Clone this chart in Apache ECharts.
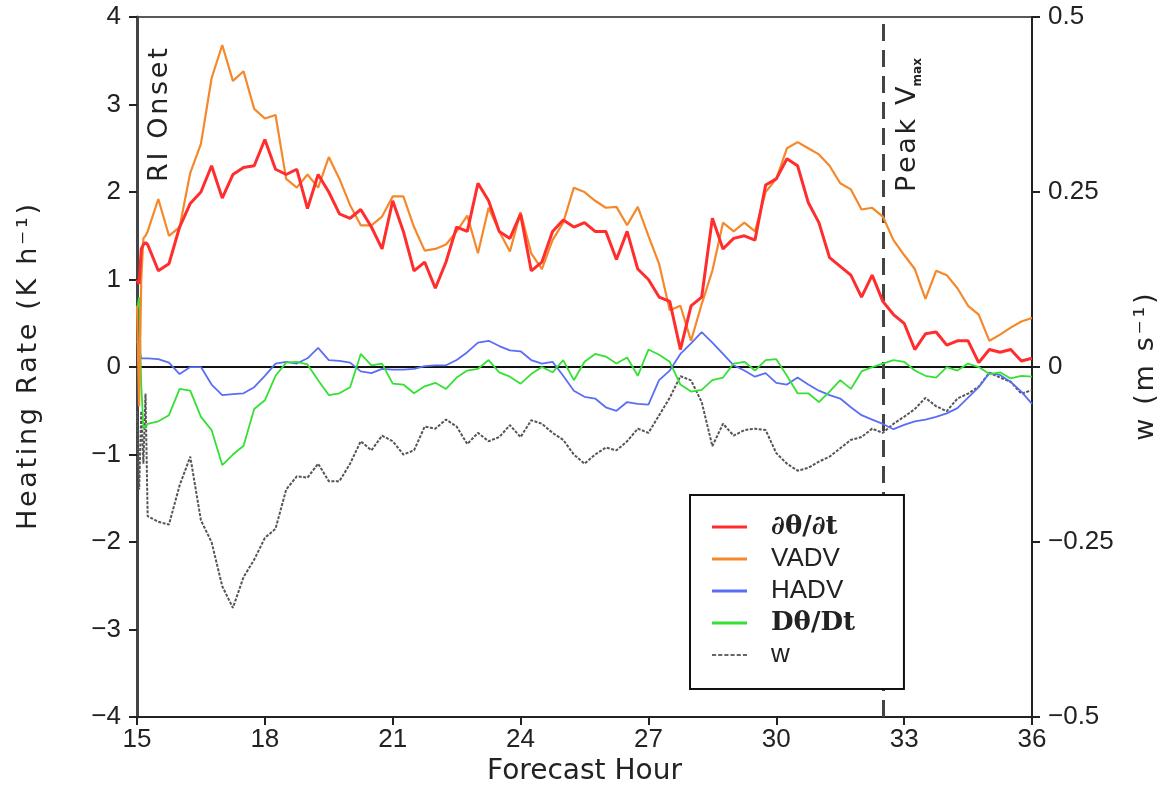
<!DOCTYPE html>
<html>
<head>
<meta charset="utf-8">
<script src="https://cdn.jsdelivr.net/npm/echarts@6/dist/echarts.min.js"></script>
<style>
  html, body { margin: 0; padding: 0; background: #fff; }
  #chart { width: 1173px; height: 791px; }
</style>
</head>
<body>
<div id="chart"></div>
<script>
var hours = [15, 15.05, 15.1, 15.15, 15.2, 15.25, 15.5, 15.75, 16, 16.25, 16.5, 16.75, 17, 17.25, 17.5, 17.75,
  18, 18.25, 18.5, 18.75, 19, 19.25, 19.5, 19.75, 20, 20.25, 20.5, 20.75, 21, 21.25, 21.5, 21.75,
  22, 22.25, 22.5, 22.75, 23, 23.25, 23.5, 23.75, 24, 24.25, 24.5, 24.75, 25, 25.25, 25.5, 25.75,
  26, 26.25, 26.5, 26.75, 27, 27.25, 27.5, 27.75, 28, 28.25, 28.5, 28.75, 29, 29.25, 29.5, 29.75,
  30, 30.25, 30.5, 30.75, 31, 31.25, 31.5, 31.75, 32, 32.25, 32.5, 32.75, 33, 33.25, 33.5, 33.75,
  34, 34.25, 34.5, 34.75, 35, 35.25, 35.5, 35.75, 36];

// heating rates, K h-1
var dthdt = [1.0, 0.95, 1.35, 1.4, 1.42, 1.4,
  1.1, 1.18, 1.6, 1.87, 2.0, 2.3, 1.93, 2.2, 2.28, 2.3,
  2.6, 2.26, 2.2, 2.26, 1.81, 2.2, 2.0, 1.75,
  1.7, 1.8, 1.6, 1.35, 1.9, 1.55, 1.1, 1.2,
  0.9, 1.2, 1.6, 1.55, 2.1, 1.9, 1.55, 1.47,
  1.75, 1.1, 1.2, 1.55, 1.68, 1.6, 1.65, 1.55,
  1.55, 1.23, 1.55, 1.12, 1.0, 0.8, 0.75, 0.2,
  0.7, 0.8, 1.7, 1.35, 1.47, 1.5, 1.45, 2.08,
  2.15, 2.38, 2.3, 1.88, 1.65, 1.25, 1.15, 1.05,
  0.8, 1.05, 0.75, 0.6, 0.5, 0.2, 0.38, 0.4,
  0.25, 0.3, 0.3, 0.05, 0.2, 0.17, 0.2, 0.07, 0.1];

var vadv = [0.7, -0.45, 1.0, 1.47, 1.5, 1.55,
  1.92, 1.5, 1.6, 2.22, 2.55, 3.3, 3.68, 3.27, 3.38, 2.95,
  2.84, 2.88, 2.15, 2.05, 2.2, 2.05, 2.4, 2.15,
  1.85, 1.62, 1.62, 1.72, 1.95, 1.95, 1.6, 1.33,
  1.35, 1.4, 1.55, 1.73, 1.3, 1.82, 1.55, 1.32,
  1.77, 1.3, 1.12, 1.45, 1.65, 2.05, 2.0, 1.9,
  1.82, 1.83, 1.62, 1.83, 1.5, 1.18, 0.65, 0.7,
  0.3, 0.72, 1.1, 1.65, 1.55, 1.65, 1.55, 2.0,
  2.15, 2.5, 2.57, 2.5, 2.43, 2.3, 2.1, 2.03,
  1.8, 1.82, 1.72, 1.45, 1.28, 1.12, 0.78, 1.1,
  1.05, 0.9, 0.7, 0.6, 0.3, 0.37, 0.45, 0.52, 0.56];

var hadv = [0.3, 0.2, 0.1, 0.1, 0.1, 0.1,
  0.09, 0.05, -0.08, 0.0, 0.0, -0.2, -0.32, -0.31, -0.3, -0.23,
  -0.1, 0.04, 0.06, 0.04, 0.1, 0.22, 0.08, 0.07,
  0.05, -0.05, -0.07, -0.02, -0.03, -0.03, -0.02, 0.01,
  0.02, 0.02, 0.08, 0.17, 0.28, 0.3, 0.24, 0.19,
  0.18, 0.08, 0.04, 0.06, -0.1, -0.27, -0.34, -0.36,
  -0.46, -0.5, -0.4, -0.42, -0.43, -0.15, -0.04, 0.15,
  0.27, 0.4, 0.28, 0.15, 0.02, -0.04, -0.11, -0.07,
  -0.18, -0.2, -0.12, -0.2, -0.27, -0.32, -0.36, -0.46,
  -0.55, -0.6, -0.65, -0.71, -0.66, -0.62, -0.6, -0.57,
  -0.53, -0.47, -0.35, -0.23, -0.07, -0.09, -0.17, -0.28, -0.42];

var dthDt = [0.65, 0.8, -0.2, -0.7, -0.68, -0.65,
  -0.62, -0.55, -0.25, -0.27, -0.57, -0.72, -1.12, -1.0, -0.9, -0.48,
  -0.38, -0.1, 0.05, 0.06, 0.03, -0.15, -0.32, -0.3,
  -0.23, 0.15, 0.02, 0.04, -0.19, -0.2, -0.3, -0.22,
  -0.18, -0.25, -0.12, -0.04, -0.02, 0.08, -0.06, -0.11,
  -0.19, -0.08, 0.0, -0.06, 0.08, -0.15, 0.06, 0.15,
  0.12, 0.04, 0.11, -0.1, 0.2, 0.14, 0.06, -0.2,
  -0.28, -0.26, -0.15, -0.12, 0.04, 0.06, -0.04, 0.08,
  0.09, -0.1, -0.3, -0.3, -0.4, -0.28, -0.15, -0.25,
  -0.05, 0.0, 0.04, 0.08, 0.06, -0.04, -0.1, -0.12,
  0.0, -0.04, 0.04, 0.0, -0.08, -0.06, -0.13, -0.1, -0.11];

// vertical velocity, m s-1 (right axis)
var wVel = [-0.063, -0.175, -0.063, -0.138, -0.038, -0.213,
  -0.221, -0.225, -0.169, -0.128, -0.219, -0.25, -0.313, -0.344, -0.3, -0.275,
  -0.244, -0.231, -0.175, -0.156, -0.158, -0.138, -0.163, -0.163,
  -0.138, -0.106, -0.119, -0.098, -0.106, -0.125, -0.119, -0.085,
  -0.088, -0.075, -0.085, -0.11, -0.094, -0.106, -0.1, -0.083,
  -0.1, -0.076, -0.081, -0.094, -0.104, -0.125, -0.138, -0.125,
  -0.115, -0.119, -0.106, -0.088, -0.094, -0.069, -0.044, -0.013,
  -0.019, -0.05, -0.113, -0.081, -0.098, -0.09, -0.088, -0.09,
  -0.123, -0.138, -0.148, -0.144, -0.135, -0.128, -0.116, -0.104,
  -0.1, -0.088, -0.094, -0.081, -0.071, -0.06, -0.044, -0.056,
  -0.063, -0.045, -0.038, -0.028, -0.008, -0.015, -0.021, -0.038, -0.033];

var seriesNames = ['∂θ/∂t', 'VADV', 'HADV', 'Dθ/Dt', 'w'];
var peakHour = 32.5;

function pairs(vals) {
  return hours.map(function (h, i) { return [h, vals[i]]; });
}
function minus(v) {
  return String(v).replace('-', '−');
}
function spaced(s) {
  return s.split('').join('\u200A');
}

var dom = document.getElementById('chart');
var myChart = echarts.init(dom);
var labelFont = 'Liberation Sans';
var nameFont = 'DejaVu Sans';
var dashIcon = 'path://M0,0h4v2h-4zM6,0h4v2h-4zM12,0h4v2h-4zM18,0h4v2h-4zM24,0h4v2h-4zM30,0h4v2h-4z';
var tickStyle = { show: true, inside: false, length: 8, lineStyle: { width: 2, color: '#222' } };

var option = {
  backgroundColor: '#ffffff',
  animation: false,
  grid: {
    left: 137, right: 141, top: 17, bottom: 69,
    show: true, borderColor: '#222', borderWidth: 1.5, backgroundColor: 'transparent'
  },
  legend: {
    z: 20,
    data: [
      { name: seriesNames[0], icon: 'rect' },
      { name: seriesNames[1], icon: 'rect' },
      { name: seriesNames[2], icon: 'rect' },
      { name: seriesNames[3], icon: 'rect' },
      { name: seriesNames[4], icon: dashIcon }
    ],
    orient: 'vertical',
    left: 690, top: 495,
    backgroundColor: '#fff',
    borderColor: '#111', borderWidth: 2,
    padding: [19, 49, 21, 22],
    itemWidth: 35, itemHeight: 3, itemGap: 6,
    formatter: function (name) {
      return name.indexOf('θ') >= 0 ? '{m|' + name + '}' : name;
    },
    textStyle: {
      fontSize: 26, color: '#222', fontFamily: labelFont,
      padding: [0, 0, 0, 19],
      rich: { m: { fontFamily: 'DejaVu Serif', fontWeight: 'bold', fontSize: 26, color: '#222' } }
    }
  },
  xAxis: {
    type: 'value', min: 15, max: 36, interval: 3,
    name: 'Forecast Hour', nameLocation: 'middle', nameGap: 40,
    nameTextStyle: { fontSize: 28, fontFamily: nameFont, color: '#222' },
    axisLine: { show: true, onZero: false, lineStyle: { color: '#222', width: 2 } },
    axisTick: tickStyle,
    axisLabel: { fontSize: 26, fontFamily: labelFont, color: '#222', margin: 10 },
    splitLine: { show: false }
  },
  yAxis: [
    {
      type: 'value', min: -4, max: 4, interval: 1, position: 'left',
      name: spaced('Heating Rate (K h⁻¹)'), nameLocation: 'middle', nameRotate: 90, nameGap: 95,
      nameTextStyle: { fontSize: 27, fontFamily: nameFont, color: '#222' },
      axisLine: { show: true, onZero: false, lineStyle: { color: '#444', width: 3 } },
      axisTick: tickStyle,
      axisLabel: { fontSize: 26, fontFamily: labelFont, color: '#222', margin: 16, formatter: minus },
      splitLine: { show: false }
    },
    {
      type: 'value', min: -0.5, max: 0.5, interval: 0.25, position: 'right',
      name: spaced('w (m s⁻¹)'), nameLocation: 'middle', nameRotate: 90, nameGap: 100,
      nameTextStyle: { fontSize: 27, fontFamily: nameFont, color: '#222' },
      axisLine: { show: true, onZero: false, lineStyle: { color: '#222', width: 2 } },
      axisTick: tickStyle,
      axisLabel: { fontSize: 26, fontFamily: labelFont, color: '#222', margin: 16, formatter: minus },
      splitLine: { show: false }
    }
  ],
  series: [
    {
      name: seriesNames[0], type: 'line', data: pairs(dthdt), symbol: 'none', z: 6,
      lineStyle: { color: '#ff2d2d', width: 3 }, itemStyle: { color: '#ff2d2d' },
      markLine: {
        silent: true, symbol: 'none', label: { show: false }, z: 3,
        data: [
          { yAxis: 0, lineStyle: { color: '#111', width: 2, type: 'solid' } },
          { xAxis: peakHour, lineStyle: { color: '#444', width: 3, type: [17, 9] } }
        ]
      }
    },
    {
      name: seriesNames[1], type: 'line', data: pairs(vadv), symbol: 'none', z: 5,
      lineStyle: { color: '#f5882a', width: 2.2 }, itemStyle: { color: '#f5882a' }
    },
    {
      name: seriesNames[2], type: 'line', data: pairs(hadv), symbol: 'none', z: 4,
      lineStyle: { color: '#5a6ef5', width: 1.8 }, itemStyle: { color: '#5a6ef5' }
    },
    {
      name: seriesNames[3], type: 'line', data: pairs(dthDt), symbol: 'none', z: 4,
      lineStyle: { color: '#35e035', width: 1.8 }, itemStyle: { color: '#35e035' }
    },
    {
      name: seriesNames[4], type: 'line', yAxisIndex: 1, data: pairs(wVel), symbol: 'none', z: 3,
      lineStyle: { color: '#555', width: 2, type: [3, 1.5] }, itemStyle: { color: '#666' }
    }
  ],
  graphic: [
    {
      type: 'text', x: 160, y: 182, rotation: Math.PI / 2, z: 10,
      style: { text: spaced('RI Onset'), fontSize: 27, fontFamily: nameFont, fill: '#222', align: 'left', verticalAlign: 'middle' }
    },
    {
      type: 'text', x: 908, y: 192, rotation: Math.PI / 2, z: 10,
      style: {
        text: '{n|' + spaced('Peak V') + '}{s|max}', align: 'left', verticalAlign: 'middle', fill: '#222',
        rich: {
          n: { fontSize: 27, fontFamily: nameFont, fill: '#222', lineHeight: 32 },
          s: { fontSize: 12, fontFamily: nameFont, fontWeight: 'bold', fill: '#222', verticalAlign: 'bottom', lineHeight: 30 }
        }
      }
    }
  ]
};

myChart.setOption(option, true);
</script>
</body>
</html>
